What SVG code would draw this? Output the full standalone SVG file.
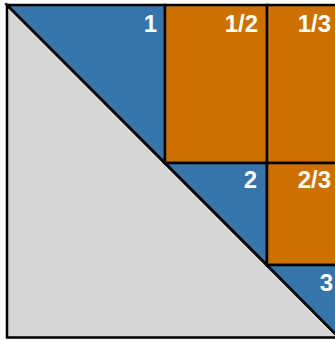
<svg xmlns="http://www.w3.org/2000/svg" width="335" height="341" viewBox="0 0 335 341">
  <style>
    .piece { stroke: #000; stroke-width: 2.5; stroke-linejoin: miter; }
    .gray { fill: #d6d6d6; }
    .blue { fill: #3674aa; }
    .orange { fill: #cc7000; }
    .lbl { font-family: "Liberation Sans", Arial, sans-serif; font-weight: bold; font-size: 24px; fill: #fff; text-anchor: end; }
  </style>
  <rect width="335" height="341" fill="#fff"/>
  <g id="gray-triangle">
    <polygon class="piece gray" points="7,5 7,337.5 339,337.5"/>
  </g>
  <g id="tri-1">
    <polygon class="piece blue" points="7,5 165,5 165,163"/>
    <text class="lbl" x="157" y="32">1</text>
  </g>
  <g id="rect-1-2">
    <rect class="piece orange" x="165" y="5" width="102" height="158"/>
    <text class="lbl" x="258" y="32">1/2</text>
  </g>
  <g id="rect-1-3">
    <rect class="piece orange" x="267" y="5" width="72" height="158"/>
    <text class="lbl" x="331" y="32">1/3</text>
  </g>
  <g id="tri-2">
    <polygon class="piece blue" points="165,163 267,163 267,265"/>
    <text class="lbl" x="257" y="188">2</text>
  </g>
  <g id="rect-2-3">
    <rect class="piece orange" x="267" y="163" width="72" height="102"/>
    <text class="lbl" x="331" y="188">2/3</text>
  </g>
  <g id="tri-3">
    <polygon class="piece blue" points="267,265 339,265 339,337.5"/>
    <text class="lbl" x="333" y="291">3</text>
  </g>
</svg>
